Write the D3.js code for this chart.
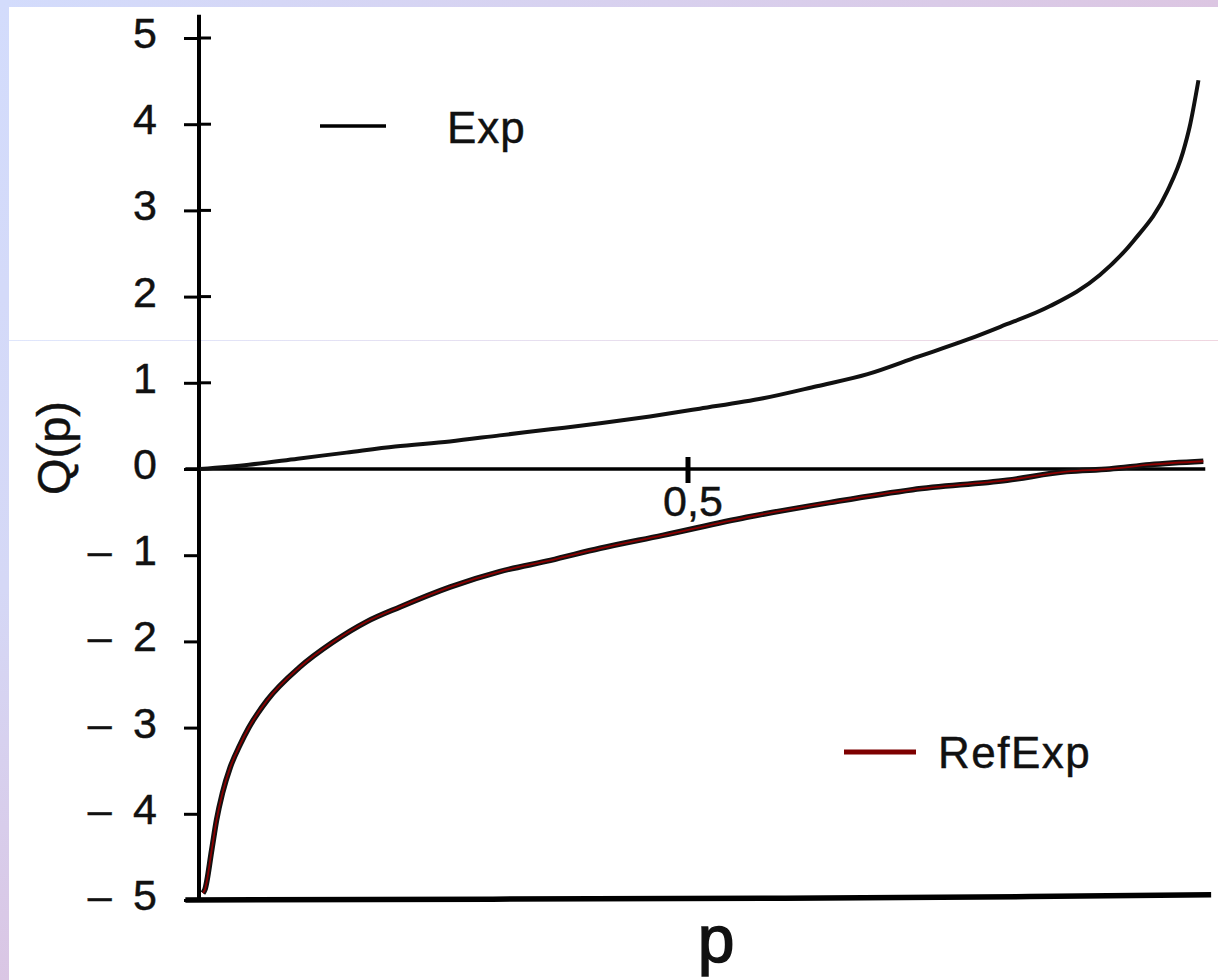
<html>
<head>
<script src="https://d3js.org/d3.v7.min.js"></script>
<style>
  body { margin: 0; background: #fff; }
  svg text { font-family: "Liberation Sans", Arial, sans-serif; fill: #111; stroke: #111; stroke-width: 0.45px; }
</style>
</head>
<body>
<svg width="1218" height="980"></svg>
<script>
// values
var expP   = [0, 0.05, 0.10, 0.15, 0.20, 0.256, 0.307, 0.359, 0.41, 0.461, 0.512, 0.577, 0.632, 0.684, 0.735, 0.786, 0.82, 0.871, 0.922, 0.956, 0.991, 1.007, 1.014, 1.023];
var expQ   = [0, 0.05, 0.12, 0.19, 0.26, 0.32, 0.39, 0.46, 0.53, 0.61, 0.70, 0.82, 0.96, 1.10, 1.30, 1.50, 1.65, 1.89, 2.25, 2.64, 3.22, 3.67, 3.97, 4.51];

var refP   = [0.003, 0.005, 0.012, 0.017, 0.023, 0.031, 0.041, 0.05, 0.069, 0.102, 0.136, 0.171, 0.205, 0.256, 0.307, 0.359, 0.41, 0.474, 0.56, 0.645, 0.73, 0.827, 0.888, 0.932, 0.973, 1.028];
var refQ   = [-4.92, -4.88, -4.42, -4.07, -3.76, -3.46, -3.20, -3.00, -2.68, -2.30, -2.01, -1.77, -1.60, -1.37, -1.19, -1.06, -0.92, -0.77, -0.56, -0.39, -0.24, -0.13, -0.03, 0.0, 0.05, 0.09];

// the heavy line along the bottom
var baseP  = [-0.015, 0.3, 0.6, 0.85, 1.036];
var baseQ  = [-5.0, -4.99, -4.98, -4.96, -4.94];

var yTicks      = [5, 4, 3, 2, 1, 0, -1, -2, -3, -4, -5];
var yTickLabels = ["5", "4", "3", "2", "1", "0", "\u2013\u20021", "\u2013\u20022", "\u2013\u20023", "\u2013\u20024", "\u2013\u20025"];
var xTicks      = [0.5];
var xTickLabels = ["0,5"];

var svg = d3.select("svg");

// scanned slide frame
var defs = svg.append("defs");
var gTop = defs.append("linearGradient").attr("id", "gtop");
gTop.append("stop").attr("offset", "0%").attr("stop-color", "#d3dcfc");
gTop.append("stop").attr("offset", "100%").attr("stop-color", "#dcc6e2");
var gLeft = defs.append("linearGradient").attr("id", "gleft")
    .attr("x1", 0).attr("y1", 0).attr("x2", 0).attr("y2", 1);
gLeft.append("stop").attr("offset", "0%").attr("stop-color", "#d3dcfc");
gLeft.append("stop").attr("offset", "60%").attr("stop-color", "#d5d8f6");
gLeft.append("stop").attr("offset", "100%").attr("stop-color", "#dac6e4");
var gSeam = defs.append("linearGradient").attr("id", "gseam");
gSeam.append("stop").attr("offset", "0%").attr("stop-color", "#dfe6fc");
gSeam.append("stop").attr("offset", "100%").attr("stop-color", "#f0d6e0");

svg.append("rect").attr("x", 0).attr("y", 0).attr("width", 1218).attr("height", 7).attr("fill", "url(#gtop)");
svg.append("rect").attr("x", 0).attr("y", 0).attr("width", 9).attr("height", 980).attr("fill", "url(#gleft)");
svg.append("rect").attr("x", 9).attr("y", 340).attr("width", 1209).attr("height", 1).attr("fill", "url(#gseam)");

var x = d3.scaleLinear().domain([0, 1]).range([200, 1176]);
var y = d3.scaleLinear().domain([-5, 5]).range([900, 38]);

var line = d3.line()
    .x(function(d) { return x(d[0]); })
    .y(function(d) { return y(d[1]); })
    .curve(d3.curveMonotoneX);

var expData  = expP.map(function(p, i) { return [p, expQ[i]]; });
var refData  = refP.map(function(p, i) { return [p, refQ[i]]; });
var baseData = baseP.map(function(p, i) { return [p, baseQ[i]]; });

// x axis at Q = 0
svg.append("line")
    .attr("x1", x(-0.015)).attr("x2", x(1.03))
    .attr("y1", y(0)).attr("y2", y(0))
    .attr("stroke", "#000").attr("stroke-width", 3.5);

svg.selectAll(".xtick").data(xTicks).enter().append("line")
    .attr("x1", function(d) { return x(d); }).attr("x2", function(d) { return x(d); })
    .attr("y1", y(0) - 12).attr("y2", y(0) + 14)
    .attr("stroke", "#000").attr("stroke-width", 5);

svg.selectAll(".xlab").data(xTicks).enter().append("text")
    .attr("x", function(d) { return x(d) + 5; })
    .attr("y", y(0) + 47)
    .attr("text-anchor", "middle")
    .style("font-size", "43px")
    .text(function(d, i) { return xTickLabels[i]; });

// y axis
var yAxis = svg.append("g")
    .attr("transform", "translate(199,0)")
    .call(d3.axisLeft(y).tickValues(yTicks).tickSize(15).tickSizeOuter(0)
        .tickFormat(function(d, i) { return yTickLabels[i]; }));
yAxis.select(".domain").remove();
yAxis.selectAll(".tick line").attr("stroke", "#000").attr("stroke-width", 3);
yAxis.selectAll(".tick text")
    .attr("x", -42).attr("dy", "0.22em")
    .style("font-size", "43px")
    .style("font-family", "'Liberation Sans', Arial, sans-serif")
    .attr("fill", "#111");

svg.selectAll(".rtick").data(yTicks.filter(function(d) { return d > 0; })).enter().append("line")
    .attr("x1", 199).attr("x2", 211)
    .attr("y1", function(d) { return y(d); }).attr("y2", function(d) { return y(d); })
    .attr("stroke", "#000").attr("stroke-width", 3);

svg.append("line")
    .attr("x1", 199).attr("x2", 199)
    .attr("y1", y(5.27)).attr("y2", y(-5))
    .attr("stroke", "#000").attr("stroke-width", 4);

// bottom heavy line
svg.append("path").datum(baseData)
    .attr("d", d3.line().x(function(d) { return x(d[0]); }).y(function(d) { return y(d[1]); }))
    .attr("fill", "none").attr("stroke", "#000").attr("stroke-width", 5.5);

// curves
svg.append("path").datum(expData)
    .attr("d", line)
    .attr("fill", "none").attr("stroke", "#111").attr("stroke-width", 4);

svg.append("path").datum(refData)
    .attr("d", line)
    .attr("fill", "none").attr("stroke", "#111").attr("stroke-width", 5.5);

svg.append("path").datum(refData)
    .attr("d", line)
    .attr("fill", "none").attr("stroke", "#8b0000").attr("stroke-width", 1.8);

// legend
svg.append("line").attr("x1", 320).attr("x2", 386).attr("y1", 126).attr("y2", 126)
    .attr("stroke", "#000").attr("stroke-width", 3.5);
svg.append("text").attr("x", 447).attr("y", 143).text("Exp")
    .style("font-size", "44px").style("letter-spacing", "1px");

svg.append("line").attr("x1", 844).attr("x2", 916).attr("y1", 752).attr("y2", 752)
    .attr("stroke", "#7d0000").attr("stroke-width", 5);
svg.append("text").attr("x", 938).attr("y", 768).text("RefExp")
    .style("font-size", "44px").style("letter-spacing", "1.5px");

// axis titles
svg.append("text")
    .attr("transform", "translate(70,448) rotate(-90)")
    .attr("text-anchor", "middle")
    .style("font-size", "47px")
    .text("Q(p)");

svg.append("text")
    .attr("x", 716).attr("y", 962)
    .attr("text-anchor", "middle")
    .style("font-size", "66px")
    .style("stroke-width", "1.5px")
    .text("p");
</script>
</body>
</html>
